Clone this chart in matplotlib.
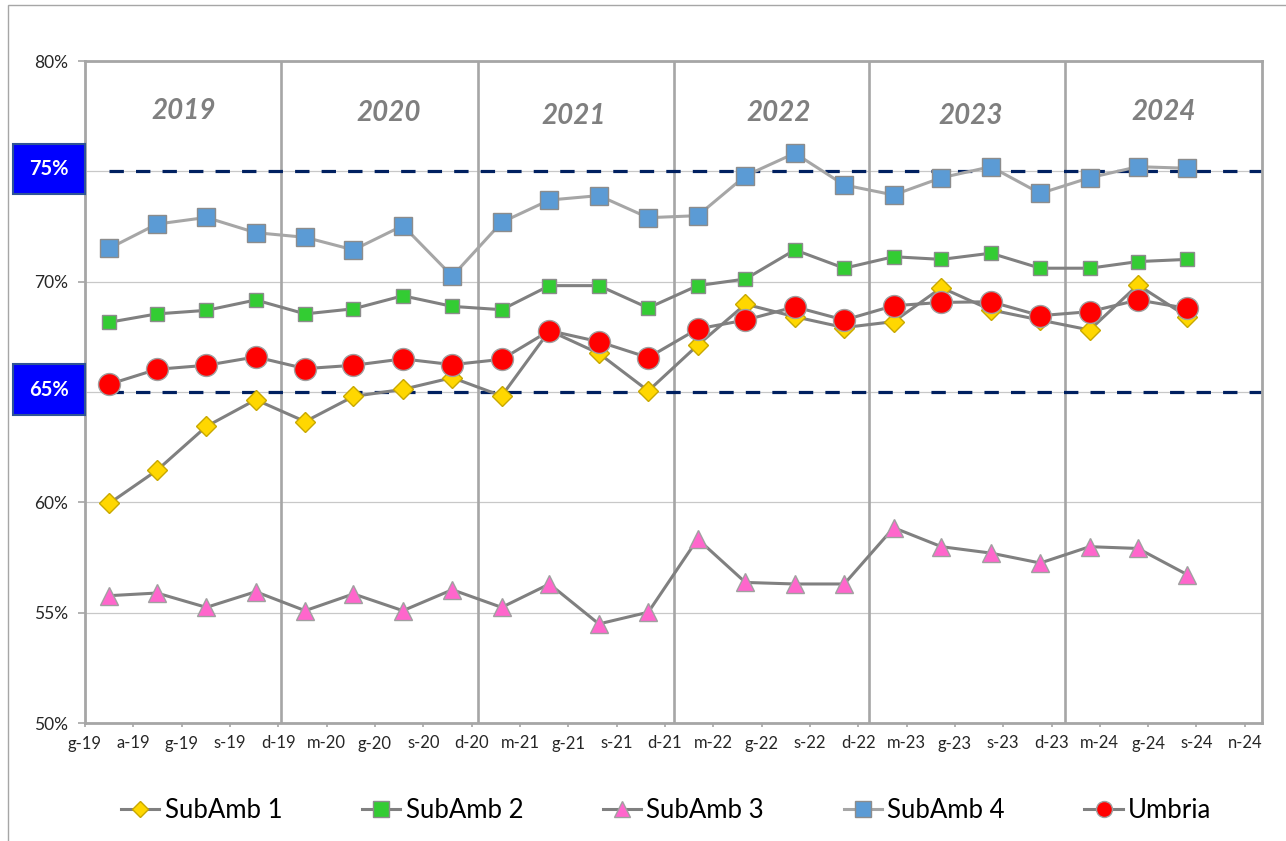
import matplotlib
matplotlib.use("Agg")
import matplotlib.pyplot as plt
import matplotlib.transforms as mtransforms
from matplotlib.lines import Line2D
from matplotlib.patches import Rectangle
import numpy as np
import pandas as pd

plt.rcParams["font.family"] = ["Lato", "DejaVu Sans"]

# quarterly readings (mid Feb / May / Aug / Nov), Feb 2019 -> Aug 2024
DATES = pd.date_range("2019-02-01", periods=23, freq="3MS") + pd.Timedelta(days=14)

SUBAMB1 = [59.95, 61.45, 63.44, 64.65, 63.66, 64.80, 65.12, 65.65, 64.82, 67.78, 66.75, 65.05,
           67.12, 68.98, 68.41, 67.92, 68.19, 69.73, 68.72, 68.26, 67.81, 69.85, 68.41]
SUBAMB2 = [68.16, 68.54, 68.70, 69.17, 68.54, 68.77, 69.36, 68.88, 68.73, 69.82, 69.82, 68.81,
           69.82, 70.12, 71.44, 70.61, 71.13, 71.01, 71.29, 70.61, 70.61, 70.91, 71.01]
SUBAMB3 = [55.77, 55.89, 55.24, 55.95, 55.09, 55.85, 55.09, 56.04, 55.24, 56.30, 54.49, 55.02,
           58.34, 56.37, 56.30, 56.30, 58.85, 57.99, 57.70, 57.25, 57.99, 57.91, 56.72]
SUBAMB4 = [71.51, 72.61, 72.91, 72.22, 72.01, 71.44, 72.54, 70.25, 72.69, 73.70, 73.90, 72.90,
           72.99, 74.80, 75.82, 74.38, 73.93, 74.71, 75.21, 74.00, 74.71, 75.21, 75.14]
UMBRIA = [65.35, 66.03, 66.21, 66.59, 66.06, 66.21, 66.50, 66.24, 66.48, 67.78, 67.28, 66.56,
          67.86, 68.26, 68.86, 68.26, 68.91, 69.06, 69.09, 68.46, 68.64, 69.17, 68.79]

TICK_LABELS = ["g-19", "a-19", "g-19", "s-19", "d-19", "m-20", "g-20", "s-20", "d-20",
               "m-21", "g-21", "s-21", "d-21", "m-22", "g-22", "s-22", "d-22",
               "m-23", "g-23", "s-23", "d-23", "m-24", "g-24", "s-24", "n-24"]
YEARS = ["2019", "2020", "2021", "2022", "2023", "2024"]
TARGETS = [75, 65]

# styles
SERIES = [
    ("SubAmb 1", SUBAMB1, dict(color="#808080", marker="D", ms=10.3, mfc="#FFD700", mec="#C8A800")),
    ("SubAmb 2", SUBAMB2, dict(color="#808080", marker="s", ms=10.3, mfc="#33CC33", mec="#8C8C8C")),
    ("SubAmb 3", SUBAMB3, dict(color="#808080", marker="^", ms=13.2, mfc="#FF66CC", mec="#A0A0A0")),
    ("SubAmb 4", SUBAMB4, dict(color="#A6A6A6", marker="s", ms=13.2, mfc="#5B9BD5", mec="#8C8C8C")),
    ("Umbria", UMBRIA, dict(color="#808080", marker="o", ms=15.8, mfc="#FF0000", mec="#A0A0A0")),
]
YEAR_POS = [(0.0841, 0.9245), (0.2583, 0.9215), (0.4155, 0.9169),
            (0.5896, 0.9215), (0.7528, 0.9169), (0.9167, 0.9230)]
GRAY = "#A6A6A6"

fig = plt.figure(figsize=(12.86, 8.41), dpi=100)
ax = fig.add_axes([85 / 1286, 1 - 723 / 841, 1177 / 1286, 662 / 841])

x0, x1 = pd.Timestamp("2019-01-01"), pd.Timestamp("2025-01-01")
ax.set_xlim(x0, x1)
ax.set_ylim(50, 80)
yt = list(range(50, 81, 5))
ax.set_yticks(yt)
# the 65/75 labels sit under the blue boxes, so leave them blank
ax.set_yticklabels(["" if v in TARGETS else f"{v}%" for v in yt])
ax.set_xticks(x0 + pd.to_timedelta(np.arange(len(TICK_LABELS)) * 90, unit="D"))
ax.set_xticklabels(TICK_LABELS)

ax.grid(axis="y", color="#C8C8C8", lw=0.9)
ax.set_axisbelow(True)
for s in ax.spines.values():
    s.set_color(GRAY); s.set_linewidth(2)
ax.tick_params(axis="x", length=3, width=1.2, color=GRAY, pad=6, labelsize=12, labelcolor="#262626")
ax.tick_params(axis="y", length=5, width=1.2, color=GRAY, pad=7, labelsize=12.5, labelcolor="#262626")

for yr in range(2020, 2025):
    ax.axvline(pd.Timestamp(f"{yr}-01-01"), color=GRAY, lw=1.9, zorder=1)

for t in TARGETS:
    ax.plot([DATES[0], x1], [t, t], color="#002060", lw=2.3, ls=(0, (4.5, 3.8)), zorder=2,
            clip_on=False)

handles = []
for i, (name, vals, st) in enumerate(SERIES):
    ax.plot(DATES, vals, lw=2.2, zorder=3 + i, clip_on=False, mew=1.0, **st)
    hst = dict(st); hst["ms"] = 8.5 if st["marker"] == "D" else 11.5
    handles.append(Line2D([], [], lw=2.2, mew=1.0, **hst))

for yr, (xf, yf) in zip(YEARS, YEAR_POS):
    ax.text(xf, yf, yr, transform=ax.transAxes, ha="center", va="center", fontsize=20,
            fontweight="bold", style="italic", color="#7F7F7F")

# blue target boxes at the left
bt = mtransforms.blended_transform_factory(fig.transFigure, ax.transData)
for t in TARGETS:
    fig.add_artist(Rectangle((13 / 1286, t - 1.04), 72 / 1286, 2.3, transform=bt,
                             fc="#0000FF", ec="#2F5597", lw=1.5, zorder=5))
    fig.text(49 / 1286, t + 0.11, f"{t}%", transform=bt, ha="center", va="center",
             fontsize=14.5, fontweight="bold", color="white", zorder=6)

fig.legend(handles, [s[0] for s in SERIES], loc="center", bbox_to_anchor=(0.518, 1 - 810 / 841),
           ncol=5, frameon=False, fontsize=18.5, handlelength=1.5, handletextpad=0.2,
           columnspacing=3.1)

# outer chart border
fig.add_artist(Rectangle((8 / 1286, -0.05), 1.1, 1.05 - 5 / 841, transform=fig.transFigure,
                         fill=False, ec=GRAY, lw=1))

fig.savefig("out.png", dpi=100)
